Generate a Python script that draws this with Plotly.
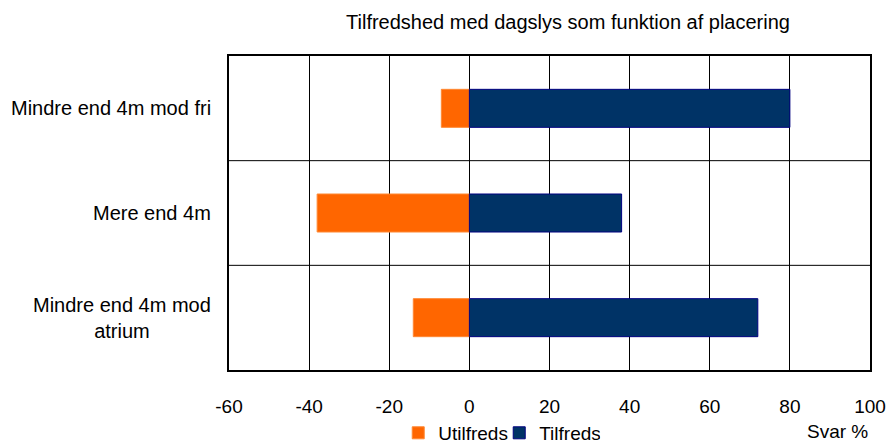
import plotly.graph_objects as go

categories = ["Mindre end 4m mod fri", "Mere end 4m", "Mindre end 4m mod<br>atrium"]
utilfreds = [-7, -38, -14]
tilfreds = [80, 38, 72]
x_ticks = [-60, -40, -20, 0, 20, 40, 60, 80, 100]
x_tick_labels = ["-60", "-40", "-20", "0", "20", "40", "60", "80", "100"]

FONT = "Liberation Sans, Arial, sans-serif"

fig = go.Figure()
fig.add_trace(go.Bar(
    y=categories, x=utilfreds, name="Utilfreds", orientation="h",
    marker=dict(color="#FF6600", line=dict(color="#FF8833", width=1)),
))
fig.add_trace(go.Bar(
    y=categories, x=tilfreds, name="Tilfreds", orientation="h",
    marker=dict(color="#003366", line=dict(color="#000080", width=1)),
))

for yv in [0.5, 1.5]:
    fig.add_shape(type="line", xref="paper", x0=0, x1=1, yref="y", y0=yv, y1=yv,
                  line=dict(color="black", width=1))

for c in categories:
    fig.add_annotation(text=c, xref="paper", x=0, xshift=-16, y=c, yref="y",
                       xanchor="right", yanchor="middle", align="center",
                       showarrow=False, font=dict(family=FONT, size=20, color="black"))

fig.add_annotation(text="Svar %", xref="paper", yref="paper", x=1, y=-61/314,
                   xanchor="right", yanchor="middle", showarrow=False,
                   font=dict(family=FONT, size=19, color="black"))

fig.update_layout(
    width=889, height=441,
    margin=dict(l=229, r=19, t=56, b=71, autoexpand=False),
    paper_bgcolor="white", plot_bgcolor="white",
    barmode="relative", bargap=0.637,
    font=dict(family=FONT, size=19, color="black"),
    title=dict(text="Tilfredshed med dagslys som funktion af placering",
               x=568/889, xref="container", xanchor="center",
               y=0.95, yref="container", yanchor="middle",
               font=dict(family=FONT, size=20, color="black")),
    xaxis=dict(range=[-60, 100], tickvals=x_ticks, ticktext=x_tick_labels,
               showgrid=True, gridcolor="black",
               gridwidth=1, zeroline=False, showline=True, linecolor="black",
               linewidth=1.5, mirror=True, ticks="", ticklabelstandoff=18,
               tickfont=dict(family=FONT, size=19, color="black")),
    yaxis=dict(range=[2.5, -0.5], showticklabels=False, showgrid=False, zeroline=False,
               showline=True, linecolor="black", linewidth=1.5, mirror=True, ticks=""),
    showlegend=True,
    legend=dict(orientation="h", x=0.264, xanchor="left", y=-0.14, yanchor="top",
                font=dict(family=FONT, size=19, color="black"),
                traceorder="normal", itemwidth=30, entrywidth=56),
)

fig.write_html("out.html", config={"displayModeBar": False},
               post_script="document.body.style.margin='0';")
